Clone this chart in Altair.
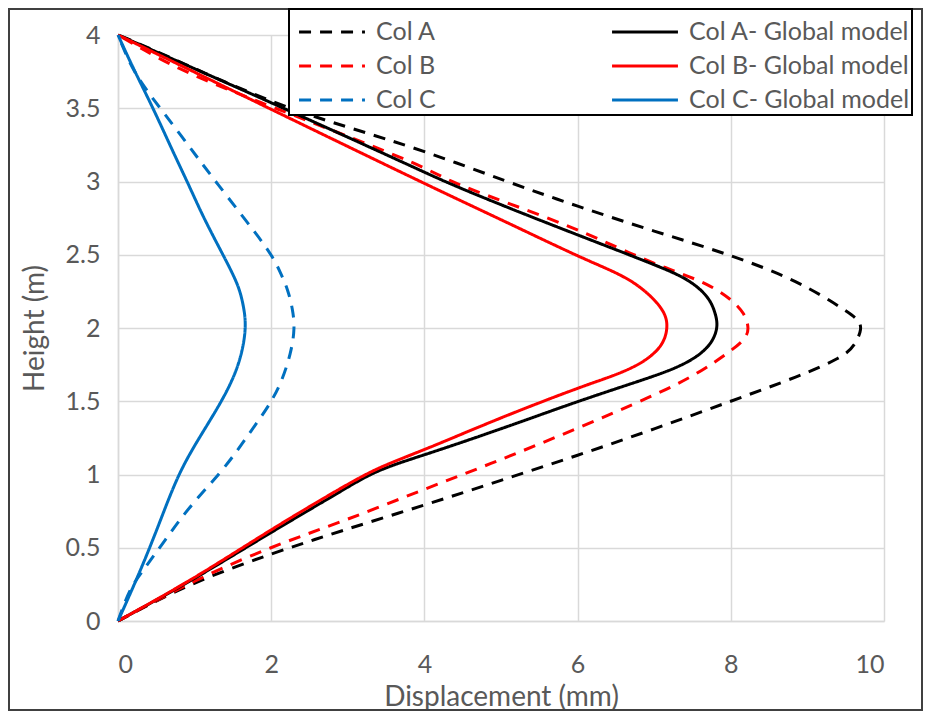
import altair as alt
import pandas as pd

# legend is filled column by column: dashed series first, then global models
series_names = ["Col A", "Col B", "Col C",
                "Col A- Global model", "Col B- Global model", "Col C- Global model"]
series_colors = ["#000000", "#FF0000", "#0070C0", "#000000", "#FF0000", "#0070C0"]
series_dashes = [[12, 9], [12, 9], [12, 9], [1, 0], [1, 0], [1, 0]]

x_ticks = [0, 2, 4, 6, 8, 10]
y_ticks = [0, 0.5, 1, 1.5, 2, 2.5, 3, 3.5, 4]

# Col A (dashed black)
cola_disp = [0, 0.9, 2.0, 2.94, 4.0, 5.0, 6.0, 7.0, 8.0, 8.89, 9.46, 9.62, 9.72, 9.66, 9.5,
             8.89, 8.0, 7.0, 6.0, 5.07, 4.0, 3.0, 2.28, 1.42, 0.33, 0]
cola_height = [0, 0.25, 0.46, 0.62, 0.79, 0.96, 1.13, 1.31, 1.50, 1.67, 1.80, 1.88, 2.0, 2.06, 2.12,
               2.32, 2.5, 2.66, 2.83, 3.0, 3.21, 3.37, 3.49, 3.67, 3.93, 4.0]

# Col A - Global model (solid black)
colag_disp = [0, 0.98, 2.01, 2.94, 3.37, 4.0, 5.0, 6.0, 6.85, 7.37, 7.72, 7.84, 7.8, 7.72,
              7.46, 7.07, 6.0, 5.0, 4.26, 3.81, 2.0, 0]
colag_height = [0, 0.28, 0.61, 0.894, 1.03, 1.133, 1.31, 1.50, 1.645, 1.74, 1.86, 2.0, 2.1, 2.21,
                2.33, 2.42, 2.635, 2.84, 3.0, 3.11, 3.54, 4.0]

# Col B (dashed red)
colb_disp = [0, 1.0, 2.01, 2.94, 4.0, 5.0, 6.0, 7.0, 7.55, 8.02, 8.2, 8.24, 8.18, 8.02,
             7.72, 7.2, 6.72, 5.98, 5.0, 4.33, 3.94, 2.94, 2.01, 1.42, 0.765, 0.33, 0]
colb_height = [0, 0.28, 0.51, 0.68, 0.9, 1.1, 1.315, 1.54, 1.68, 1.85, 1.93, 2.0, 2.1, 2.19,
               2.30, 2.40, 2.5, 2.68, 2.87, 3.0, 3.115, 3.32, 3.51, 3.63, 3.775, 3.90, 4.0]

# Col B - Global model (solid red)
colbg_disp = [0, 1.0, 2.01, 2.94, 3.4, 4.0, 5.0, 6.0, 6.31, 6.8, 7.11, 7.18, 7.15, 6.98,
              6.72, 6.41, 6.0, 5.0, 4.02, 2.01, 0]
colbg_height = [0, 0.29, 0.63, 0.917, 1.05, 1.167, 1.39, 1.59, 1.645, 1.74, 1.87, 2.0, 2.10, 2.21,
                2.32, 2.40, 2.49, 2.74, 2.98, 3.49, 4.0]

# Col C (dashed blue)
colc_disp = [0, 0.15, 0.32, 0.46, 0.68, 0.87, 1.09, 1.29, 1.50, 1.74, 1.96, 2.13, 2.26, 2.31,
             2.28, 2.22, 2.12, 2.0, 1.63, 1.29, 1.07, 0.83, 0.55, 0.22, 0.07, 0]
colc_height = [0, 0.22, 0.34, 0.44, 0.60, 0.735, 0.87, 0.985, 1.12, 1.30, 1.46, 1.62, 1.83, 2.0,
               2.13, 2.26, 2.38, 2.51, 2.76, 2.99, 3.14, 3.31, 3.5, 3.73, 3.91, 4.0]

# Col C - Global model (solid blue)
colcg_disp = [0, 0.3, 0.55, 0.79, 1.07, 1.37, 1.59, 1.68, 1.64, 1.58, 1.45, 1.33, 1.11, 0.93,
              0.72, 0.46, 0.2, 0]
colcg_height = [0, 0.35, 0.68, 1.01, 1.26, 1.51, 1.75, 2.0, 2.15, 2.28, 2.42, 2.54, 2.76, 2.97,
                3.2, 3.5, 3.77, 4.0]

all_disp = [cola_disp, colb_disp, colc_disp, colag_disp, colbg_disp, colcg_disp]
all_height = [cola_height, colb_height, colc_height, colag_height, colbg_height, colcg_height]

rows = []
for name, ds, hs in zip(series_names, all_disp, all_height):
    for i, (d, h) in enumerate(zip(ds, hs)):
        rows.append({"series": name, "disp": d, "height": h, "idx": i})
df = pd.DataFrame(rows)

FONT = "Lato"
GREY = "#595959"

legend = alt.Legend(
    title=None, orient="none", legendX=171, legendY=-26, columns=2,
    columnPadding=168, rowPadding=0, symbolType="M-1.69,0H1.69", symbolSize=1521,
    symbolOffset=20, symbolStrokeWidth=3, labelFont=FONT, labelFontSize=25, labelColor=GREY,
    labelOffset=23, labelLimit=400, padding=2, strokeColor="black", fillColor="white",
)

lines = alt.Chart(df).mark_line(strokeWidth=3, interpolate="basis").encode(
    x=alt.X("disp:Q", scale=alt.Scale(domain=[0, 10], nice=False),
            axis=alt.Axis(values=x_ticks, title="Displacement (mm)", labelBaseline="alphabetic",
                          labelPadding=51, titleY=84, titleBaseline="alphabetic")),
    y=alt.Y("height:Q", scale=alt.Scale(domain=[0, 4], nice=False),
            axis=alt.Axis(values=y_ticks, format="~g", title="Height (m)", labelPadding=18,
                          titleX=-75, titleY=293, titleAngle=270, titleAlign="center",
                          titleBaseline="alphabetic")),
    color=alt.Color("series:N", scale=alt.Scale(domain=series_names, range=series_colors),
                    legend=legend),
    strokeDash=alt.StrokeDash("series:N", scale=alt.Scale(domain=series_names, range=series_dashes),
                              legend=legend),
    order="idx:Q",
)

frame = alt.Chart(alt.Data(values=[{}])).mark_rect(
    fill=None, stroke="#404040", strokeWidth=2
).encode(
    x=alt.value(-109), x2=alt.value(804), y=alt.value(-26), y2=alt.value(675)
)

chart = alt.layer(lines, frame).properties(
    width=766, height=586,
    autosize=alt.AutoSizeParams(type="none"),
    padding={"left": 110, "top": 27, "right": 39, "bottom": 90},
    background="white",
).configure_axis(
    labelFont=FONT, labelFontSize=25, labelColor=GREY,
    titleFont=FONT, titleFontSize=28, titleColor=GREY, titleFontWeight="normal",
    gridColor="#D9D9D9", gridWidth=1.5, domainColor="#D9D9D9", domainWidth=1.5,
    ticks=False, tickSize=0,
).configure_legend(
    strokeWidth=2,
).configure_view(stroke=None)

chart.save("out.html", embed_options={"renderer": "svg", "actions": False})
